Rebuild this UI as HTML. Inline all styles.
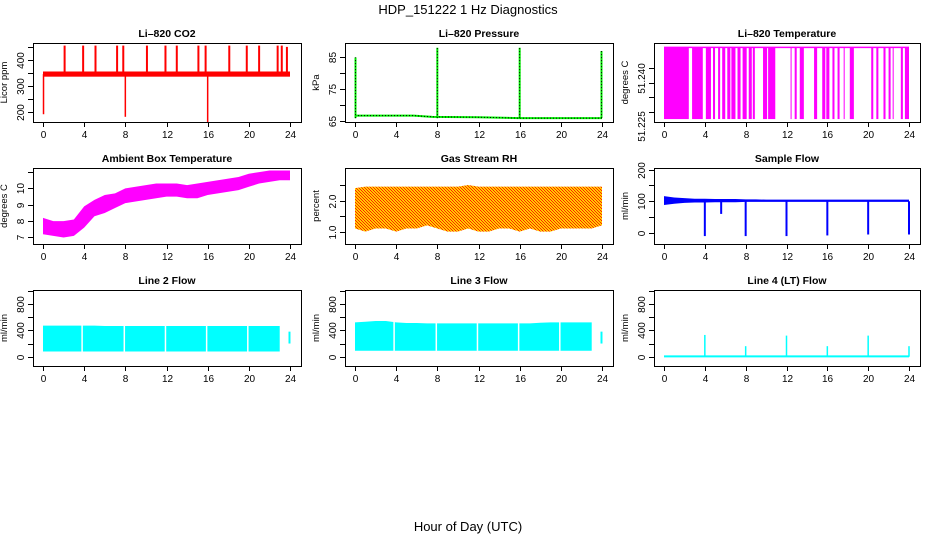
<!DOCTYPE html>
<html><head><meta charset="utf-8"><style>
html,body{margin:0;padding:0;background:#fff;}
svg{display:block;font-family:"Liberation Sans",sans-serif;}
</style></head><body>
<svg id="c" width="936" height="540" xmlns="http://www.w3.org/2000/svg">
<defs>
<pattern id="rh" width="3" height="3" patternUnits="userSpaceOnUse">
<rect width="3" height="3" fill="#ffcc00"/><rect width="1" height="1" fill="#ff2200"/><rect x="1" y="1" width="1" height="1" fill="#ff2200"/><rect x="2" y="2" width="1" height="1" fill="#ff2200"/>
</pattern>
</defs>
<text x="468" y="14" font-size="13" text-anchor="middle">HDP_151222  1 Hz Diagnostics</text>
<text x="468" y="531" font-size="13" text-anchor="middle">Hour of Day (UTC)</text>
</svg>
<script>
// ---- data ----
const hourTicks=[0,4,8,12,16,20,24];
const hours=[0,1,2,3,4,5,6,7,8,9,10,11,12,13,14,15,16,17,18,19,20,21,22,23,24];
// CO2
const co2Base=[335,355];
const co2SpikeHours=[2.1,3.9,5.1,7.2,7.8,10.1,11.9,13.0,15.1,15.8,18.1,19.8,21.0,22.8,23.2,23.7];
const co2SpikeTop=[455,455,455,455,455,455,455,455,455,455,455,455,455,455,455,450];
const co2DipHours=[0.05,8.0,16.0];
const co2DipLow=[190,180,160];
// Pressure
const presHours=[0,5.7,7.5,12,16,24];
const presVals=[66.8,66.8,66.4,66.3,66.0,66.0];
const presSpikeHours=[0.05,8.0,16.0,23.95];
const presSpikeTop=[85,88,88,87];
// Li-820 temperature toggling intervals
const tempStarts=[0,2.75,4.1,4.8,5.3,5.7,6.2,6.6,7.2,7.7,8.3,8.7,9.7,10.2,12.4,12.8,13.3,14.7,15.5,15.9,16.5,17.0,17.6,18.2,20.3,20.8,21.5,22.0,22.4,23.2,23.6];
const tempEnds=[2.43,3.8,4.6,5.0,5.5,6.0,6.5,7.0,7.5,8.1,8.6,8.9,10.1,10.9,12.5,13.0,13.7,15.0,15.8,16.2,16.7,17.2,17.7,18.6,20.5,21.0,21.7,22.2,22.5,23.4,24.0];
const tempHigh=51.247, tempLow=51.2225;
// Ambient
const ambLow=[7.2,7.1,7.0,7.1,7.6,8.3,8.5,8.8,9.1,9.2,9.3,9.4,9.5,9.5,9.4,9.4,9.6,9.7,9.8,9.9,10.1,10.3,10.4,10.5,10.5];
const ambHigh=[8.2,8.0,8.0,8.1,8.9,9.3,9.6,9.7,10.0,10.1,10.2,10.3,10.3,10.3,10.2,10.3,10.4,10.5,10.6,10.7,10.9,11.0,11.1,11.1,11.1];
// RH
const rhLow=[1.1,1.0,1.1,1.1,1.0,1.1,1.1,1.2,1.1,1.0,1.0,1.1,1.0,1.0,1.1,1.1,1.0,1.1,1.0,1.0,1.1,1.1,1.1,1.1,1.2];
const rhHigh=[2.4,2.45,2.45,2.45,2.45,2.45,2.45,2.45,2.45,2.45,2.45,2.5,2.45,2.45,2.45,2.45,2.45,2.45,2.45,2.45,2.45,2.45,2.45,2.45,2.45];
// Sample flow
const sfLow=[88,92,95,96,96,97,97,97,98,98,98,98,98,98,98,98,98,98,98,98,98,98,98,98,98];
const sfHigh=[116,112,110,108,108,107,107,107,106,106,105,105,105,105,105,105,105,105,105,105,105,105,105,105,105];
const sfDipHours=[4,5.6,8,12,16,20,24];
const sfDipLow=[-10,60,-10,-10,-8,-5,-5];
// Line flows
const flowGapHours=[3.8,7.9,11.9,15.9,19.9];
const l2Low=80, l2High=[470,470,470,470,470,470,465,465,465,465,465,465,465,465,465,465,465,465,465,465,465,465,465,465,465];
const l3Low=90, l3High=[520,530,540,540,520,510,510,505,505,505,505,505,505,505,505,505,505,505,515,520,520,520,520,520,520];
const l4SpikeHours=[4,8,12,16,20,24];
const l4SpikeTop=[330,160,320,160,320,160];

const svg=document.getElementById('c');
const NS='http://www.w3.org/2000/svg';
function mk(tag,attrs,parent){const e=document.createElementNS(NS,tag);for(const k in attrs)e.setAttribute(k,attrs[k]);(parent||svg).appendChild(e);return e;}

const cols=[{x0:33,x1:301},{x0:345,x1:613},{x0:654,x1:920}];
const rows=[{y0:43,y1:122},{y0:168,y1:244},{y0:290,y1:366}];

function panel(ci,ri,name,title,ylab,ymin,ymax,yticks,ylabels,labelShift){
  const c=cols[ci],r=rows[ri];
  const g=mk('g',{});
  
  
  const X=h=>c.x0+10+(h/24)*(c.x1-c.x0-21);
  const Y=v=>r.y1-(v-ymin)/(ymax-ymin)*(r.y1-r.y0);
  const t=mk('text',{x:(c.x0+c.x1)/2,y:r.y0-6,'font-size':'10.5','font-weight':'bold','text-anchor':'middle'},g);
  t.textContent=title;
  
  
  const yt=mk('text',{transform:`translate(${c.x0-26},${(r.y0+r.y1)/2}) rotate(-90)`,'font-size':'9.5','text-anchor':'middle'},g);
  yt.textContent=ylab;
  
  
  const plot=mk('g',{},g);
  
  
  const ax=mk('g',{stroke:'#000','stroke-width':'1',fill:'none'},g);
  mk('rect',{x:c.x0+.5,y:r.y0+.5,width:c.x1-c.x0,height:r.y1-r.y0},ax);
  hourTicks.forEach(h=>{const x=Math.round(X(h))+.5;mk('line',{x1:x,x2:x,y1:r.y1,y2:r.y1+5},ax);
    const l=mk('text',{x:x,y:r.y1+16,'font-size':'10','text-anchor':'middle',stroke:'none',fill:'#000'},g);l.textContent=h;
    
    });
  yticks.forEach((v,i)=>{const y=Math.round(Y(v))+.5;mk('line',{x1:c.x0-5,x2:c.x0,y1:y,y2:y},ax);
    if(ylabels[i]!==''){const ly=y+((labelShift&&labelShift[i])||0);const l=mk('text',{transform:`translate(${c.x0-9},${ly}) rotate(-90)`,'font-size':'10','text-anchor':'middle',fill:'#000'},g);l.textContent=ylabels[i];
    
    }});
  return {X,Y,plot};
}
function band(p,lo,hi,fill,from,to){
  let pts=[];
  hours.forEach((h,i)=>{if(h>=from&&h<=to)pts.push([p.X(h),p.Y(hi[i])]);});
  for(let i=hours.length-1;i>=0;i--){const h=hours[i];if(h>=from&&h<=to)pts.push([p.X(h),p.Y(lo[i])]);}
  return mk('polygon',{points:pts.map(q=>q.join(',')).join(' '),fill:fill},p.plot);
}
function vline(p,h,v1,v2,col,w,dash){const e=mk('line',{x1:p.X(h),x2:p.X(h),y1:p.Y(v1),y2:p.Y(v2),stroke:col,'stroke-width':w||1.5},p.plot);if(dash)e.setAttribute('stroke-dasharray',dash);return e;}

// Panel 1 CO2
{const p=panel(0,0,'co2','Li\u2013820 CO2','Licor ppm',160,465,[200,250,300,350,400,450],['200','','300','','400','']);
 const r=mk('rect',{x:p.X(0),y:p.Y(co2Base[1]),width:p.X(24)-p.X(0),height:p.Y(co2Base[0])-p.Y(co2Base[1]),fill:'#ff0000'},p.plot);
 
 co2SpikeHours.forEach((h,i)=>{const e=vline(p,h,345,co2SpikeTop[i],'#ff0000',2);});
 co2DipHours.forEach((h,i)=>{const e=vline(p,h,345,co2DipLow[i],'#ff0000',1.5);});}
// Panel 2 Pressure
{const p=panel(1,0,'pressure','Li\u2013820 Pressure','kPa',64.8,89.5,[65,70,75,80,85],['65','','75','','85']);
 const pl=mk('polyline',{points:presHours.map((h,i)=>p.X(h)+','+p.Y(presVals[i])).join(' '),fill:'none',stroke:'#00ee00','stroke-width':2},p.plot);
 
 const pd=mk('polyline',{points:presHours.map((h,i)=>p.X(h)+','+p.Y(presVals[i])).join(' '),fill:'none',stroke:'#000','stroke-width':1,'stroke-dasharray':'1,2'},p.plot);
 
 presSpikeHours.forEach((h,i)=>{vline(p,h,66,presSpikeTop[i],'#00ee00',2);const e=vline(p,h,66,presSpikeTop[i],'#000',1,'1,2');});}
// Panel 3 Li-820 Temp
{const p=panel(2,0,'li820-temp','Li\u2013820 Temperature','degrees C',51.2215,51.2485,[51.225,51.230,51.235,51.240],['51.225','','','51.240'],[14,0,0,10]);
 tempStarts.forEach((s,i)=>{const e=mk('rect',{x:p.X(s),y:p.Y(tempHigh),width:Math.max(1,p.X(tempEnds[i])-p.X(s)),height:p.Y(tempLow)-p.Y(tempHigh),fill:'#ff00ff'},p.plot);
 });
 const tl=mk('line',{x1:p.X(0),x2:p.X(24),y1:p.Y(tempHigh),y2:p.Y(tempHigh),stroke:'#ff00ff','stroke-width':1.5},p.plot);
 }
// Panel 4 Ambient
{const p=panel(0,1,'ambient','Ambient Box Temperature','degrees C',6.6,11.25,[7,8,9,10,11],['7','8','9','10','']);
 const e=band(p,ambLow,ambHigh,'#ff00ff',0,24);}
// Panel 5 RH
{const p=panel(1,1,'rh','Gas Stream RH','percent',0.6,3.05,[1.0,1.5,2.0,2.5],['1.0','','2.0','']);
 const e=band(p,rhLow,rhHigh,'url(#rh)',0,24);}
// Panel 6 Sample flow
{const p=panel(2,1,'sample-flow','Sample Flow','ml/min',-35,205,[0,50,100,150,200],['0','','100','','200']);
 const e=band(p,sfLow,sfHigh,'#0000ff',0,24);
 sfDipHours.forEach((h,i)=>{const d=vline(p,h,100,sfDipLow[i],'#0000ff',2);});}
// Flow panels
function flow(ci,name,title,lo,hi){
 const p=panel(ci,2,name,title,'ml/min',-140,1010,[0,200,400,600,800,1000],['0','','400','','800','']);
 const loArr=hours.map(()=>lo);
 const e=band(p,loArr,hi,'#00ffff',0,23.6);
 flowGapHours.forEach(h=>{const gl=mk('line',{x1:p.X(h),x2:p.X(h),y1:p.Y(1000),y2:p.Y(lo-1),stroke:'#fff','stroke-width':1.5},p.plot);});
 const t=vline(p,23.95,200,380,'#00ffff',2);
 return p;}
flow(0,'line2-flow','Line 2 Flow',l2Low,l2High);
flow(1,'line3-flow','Line 3 Flow',l3Low,l3High);
{const p=panel(2,2,'line4-flow','Line 4 (LT) Flow','ml/min',-140,1010,[0,200,400,600,800,1000],['0','','400','','800','']);
 const b=mk('line',{x1:p.X(0),x2:p.X(24),y1:p.Y(5),y2:p.Y(5),stroke:'#00ffff','stroke-width':2},p.plot);
 
 l4SpikeHours.forEach((h,i)=>{const e=vline(p,h,0,l4SpikeTop[i],'#00ffff',1.5);});}
</script>
</body></html>
